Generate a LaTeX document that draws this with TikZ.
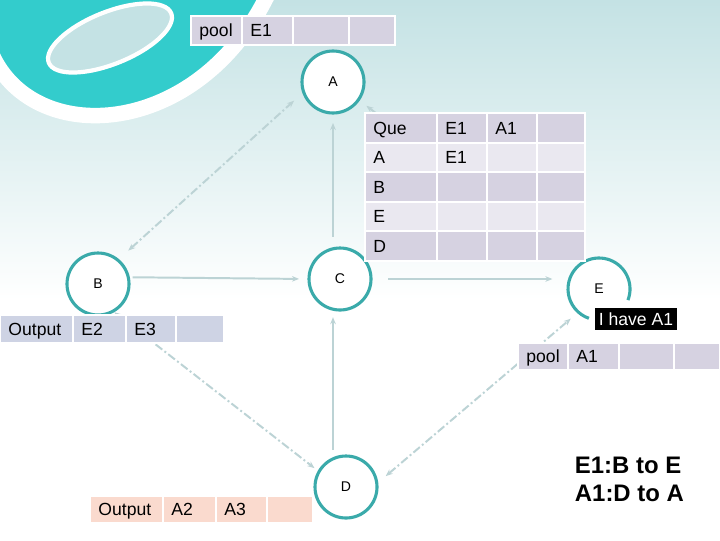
\documentclass[tikz,border=0pt]{standalone}
\usepackage{fontspec}
\setmainfont{Liberation Sans}
\usetikzlibrary{arrows.meta,calc}

\definecolor{bgteal}{RGB}{196,226,228}
\definecolor{deco}{RGB}{51,204,204}
\definecolor{ring}{RGB}{58,170,170}
\definecolor{lav}{RGB}{214,210,225}
\definecolor{lavlight}{RGB}{234,232,240}
\definecolor{bluecell}{RGB}{206,211,228}
\definecolor{peach}{RGB}{250,218,206}
\definecolor{wire}{RGB}{188,211,213}

\tikzset{
  host/.style={circle, draw=ring, line width=2.2pt, fill=white, minimum size=1.55cm, inner sep=0pt, font=\fontsize{10}{12}\selectfont},
  cell/.style={rectangle, anchor=west, draw=white, line width=1.2pt, outer sep=0pt, minimum height=0.72cm,
    inner xsep=6pt, inner ysep=0pt, text height=12pt, text depth=3pt, text width=#1*0.025cm-12pt, align=left,
    font=\fontsize{12.5}{15}\selectfont},
  flow/.style={wire, line width=1.4pt, -{Stealth[length=5pt,width=4pt]}},
  link/.style={wire, line width=1.4pt, dash pattern=on 6pt off 2pt on 1.4pt off 2pt,
    {Stealth[length=5pt,width=4pt]}-{Stealth[length=5pt,width=4pt]}},
}

\begin{document}
\begin{tikzpicture}[x=0.025cm, y=0.025cm]
  \useasboundingbox (0,0) rectangle (720,-540);

  % background and swirl
  \shade[top color=bgteal, bottom color=white] (0,0) rectangle (720,-300);
  \begin{scope}
    \clip (0,0) rectangle (720,-540);
    \fill[deco] (-10,0) -- (-10,-50) .. controls (30,-150) and (200,-140) .. (270,10) -- cycle;
    \draw[white, line width=11pt] (-10,-50) .. controls (30,-150) and (200,-140) .. (270,10);
    \draw[white, line width=3pt, fill=bgteal, rotate around={22:(110,-38)}] (110,-38) ellipse [x radius=66, y radius=26];
  \end{scope}

  % hosts
  \node[host] (A) at (333,-82) {A};
  \node[host] (B) at (98,-284) {B};
  \node[host] (C) at (340,-279) {C};
  \node[host] (D) at (346,-487) {D};
  \node[host, draw=none] (E) at (599,-289) {E};
  \draw[ring, line width=2.2pt] ($(E)+(-21:31)$) arc[start angle=-21, end angle=251, radius=31];

  % solid arrows
  \draw[flow, shorten <=2pt, shorten >=6pt] (B.12) -- (C.west);
  \draw[flow, shorten <=7pt, shorten >=6pt] (A.south |- C.north) -- (A.south);
  \draw[flow, shorten <=11pt, shorten >=10pt] (C.east) -- (C.east -| E.west);
  \draw[flow, shorten <=3pt, shorten >=4pt] (A.south |- D.north) -- (A.south |- C.south);

  % dash dot links
  \draw[link, shorten <=9pt, shorten >=8pt] (B.50) -- (A.200);
  \draw[link, shorten <=6pt, shorten >=14pt] (A.-35) -- (E.135);
  \draw[link, shorten >=3pt] (B.-60) -- (D.150);
  \draw[link, shorten <=7pt, shorten >=6pt] (D.8) -- (E.228);

  % pool at A
  \node[cell=51, fill=lav, minimum height=0.725cm] (poolA) at (191,-30.5) {pool};
  \node[cell=51, fill=lav, minimum height=0.725cm] (poolA1) at (poolA.east) {E1};
  \node[cell=56, fill=lav, minimum height=0.725cm] (poolA2) at (poolA1.east) {};
  \node[cell=46, fill=lav, minimum height=0.725cm] (poolA3) at (poolA2.east) {};

  % queue table
  \node[cell=72, fill=lav, minimum height=0.74cm] (que) at (365,-128) {Que};
  \node[cell=50, fill=lav, minimum height=0.74cm] (que1) at (que.east) {E1};
  \node[cell=50, fill=lav, minimum height=0.74cm] (que2) at (que1.east) {A1};
  \node[cell=48, fill=lav, minimum height=0.74cm] (que3) at (que2.east) {};
  \node[cell=72, fill=lavlight, minimum height=0.74cm] (qA) at (365,-157.5) {A};
  \node[cell=50, fill=lavlight, minimum height=0.74cm] (qA1) at (qA.east) {E1};
  \node[cell=50, fill=lavlight, minimum height=0.74cm] (qA2) at (qA1.east) {};
  \node[cell=48, fill=lavlight, minimum height=0.74cm] (qA3) at (qA2.east) {};
  \node[cell=72, fill=lav, minimum height=0.74cm] (qB) at (365,-187) {B};
  \node[cell=50, fill=lav, minimum height=0.74cm] (qB1) at (qB.east) {};
  \node[cell=50, fill=lav, minimum height=0.74cm] (qB2) at (qB1.east) {};
  \node[cell=48, fill=lav, minimum height=0.74cm] (qB3) at (qB2.east) {};
  \node[cell=72, fill=lavlight, minimum height=0.74cm] (qE) at (365,-216.5) {E};
  \node[cell=50, fill=lavlight, minimum height=0.74cm] (qE1) at (qE.east) {};
  \node[cell=50, fill=lavlight, minimum height=0.74cm] (qE2) at (qE1.east) {};
  \node[cell=48, fill=lavlight, minimum height=0.74cm] (qE3) at (qE2.east) {};
  \node[cell=72, fill=lav, minimum height=0.74cm] (qD) at (365,-246) {D};
  \node[cell=50, fill=lav, minimum height=0.74cm] (qD1) at (qD.east) {};
  \node[cell=50, fill=lav, minimum height=0.74cm] (qD2) at (qD1.east) {};
  \node[cell=48, fill=lav, minimum height=0.74cm] (qD3) at (qD2.east) {};

  % output at B
  \node[cell=73, fill=bluecell, minimum height=0.7cm] (outB) at (0,-329) {Output};
  \node[cell=53, fill=bluecell, minimum height=0.7cm] (outB1) at (outB.east) {E2};
  \node[cell=50, fill=bluecell, minimum height=0.7cm] (outB2) at (outB1.east) {E3};
  \node[cell=48, fill=bluecell, minimum height=0.7cm] (outB3) at (outB2.east) {};

  % pool at E
  \node[cell=50, fill=lav, minimum height=0.675cm] (poolE) at (518,-356.5) {pool};
  \node[cell=51, fill=lav, minimum height=0.675cm] (poolE1) at (poolE.east) {A1};
  \node[cell=55, fill=lav, minimum height=0.675cm] (poolE2) at (poolE1.east) {};
  \node[cell=46, fill=lav, minimum height=0.675cm] (poolE3) at (poolE2.east) {};

  % output at D
  \node[cell=73, fill=peach, minimum height=0.675cm] (outD) at (90,-509.5) {Output};
  \node[cell=53, fill=peach, minimum height=0.675cm] (outD1) at (outD.east) {A2};
  \node[cell=51, fill=peach, minimum height=0.675cm] (outD2) at (outD1.east) {A3};
  \node[cell=46, fill=peach, minimum height=0.675cm] (outD3) at (outD2.east) {};

  \node[fill=black, text=white, inner xsep=3pt, inner ysep=3pt, font=\fontsize{12.5}{15}\selectfont] (have) at (636,-319) {I have A1};
  \node[anchor=west, align=left, font=\bfseries\fontsize{17}{20}\selectfont] (note) at (570,-479) {E1:B to E\\A1:D to A};
\end{tikzpicture}
\end{document}
